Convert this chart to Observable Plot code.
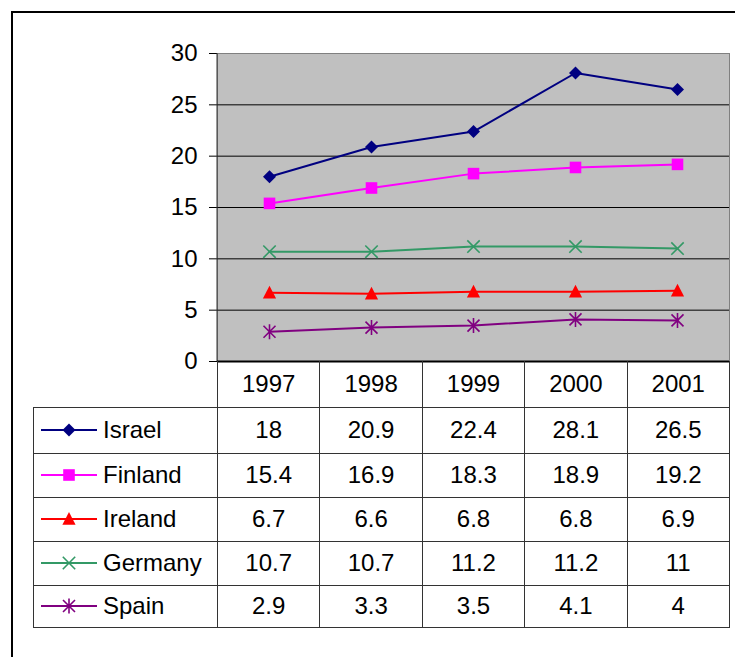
<!DOCTYPE html>
<html>
<head>
<meta charset="utf-8">
<script src="https://cdn.jsdelivr.net/npm/d3@7"></script>
<script src="https://cdn.jsdelivr.net/npm/@observablehq/plot@0.6"></script>
<style>
  html, body { margin: 0; padding: 0; background: #fff; }
  #page { position: relative; width: 735px; height: 657px; overflow: hidden; background: #fff; }
  #border { position: absolute; left: 11px; top: 11px; width: 760px; height: 700px; border: 2px solid #000; box-sizing: border-box; }
  #chart { position: absolute; left: 0; top: 0; }
  #tbl {
    position: absolute; left: 33px; top: 361px;
    border-collapse: collapse; table-layout: fixed; width: 696px;
    font: 24px "Liberation Sans", Arial, sans-serif; color: #000;
  }
  #tbl td, #tbl th { border: 1px solid #333; padding: 0; text-align: center; font-weight: normal; white-space: nowrap; }
  #tbl tr.head th { border-top: none; }
  #tbl tr.head th.corner { border-left: none; }
  #tbl tr.head { height: 46px; }
  #tbl tr.r0 { height: 46px; }
  #tbl tr.r1, #tbl tr.r2, #tbl tr.r3 { height: 44px; }
  #tbl tr.r4 { height: 42px; }
  #tbl td.key { text-align: left; }
  #tbl td.key svg { vertical-align: middle; margin-left: 7px; margin-right: 6px; position: relative; top: -2px; }
</style>
</head>
<body>
<div id="page">
  <div id="border"></div>
</div>
<script>
// Categories and series
const years = ["1997", "1998", "1999", "2000", "2001"];
const countries = ["Israel", "Finland", "Ireland", "Germany", "Spain"];
const israel = [18, 20.9, 22.4, 28.1, 26.5];
const finland = [15.4, 16.9, 18.3, 18.9, 19.2];
const ireland = [6.7, 6.6, 6.8, 6.8, 6.9];
const germany = [10.7, 10.7, 11.2, 11.2, 11];
const spain = [2.9, 3.3, 3.5, 4.1, 4];
const seriesValues = [israel, finland, ireland, germany, spain];
const colors = ["#000080", "#FF00FF", "#FF0000", "#339966", "#800080"];
const yTicks = [0, 5, 10, 15, 20, 25, 30];
const gridLines = [5, 10, 15, 20, 25];

// Marker shapes (drawn at a fixed pixel size)
const diamond = {draw(c) { const r = 6.5; c.moveTo(0, -r); c.lineTo(r, 0); c.lineTo(0, r); c.lineTo(-r, 0); c.closePath(); }};
const square = {draw(c) { const s = 5.8; c.moveTo(-s, -s); c.lineTo(s, -s); c.lineTo(s, s); c.lineTo(-s, s); c.closePath(); }};
const triangle = {draw(c) { c.moveTo(0, -7); c.lineTo(6.6, 5.8); c.lineTo(-6.6, 5.8); c.closePath(); }};
const times = {draw(c) { const r = 6.2; c.moveTo(-r, -r); c.lineTo(r, r); c.moveTo(r, -r); c.lineTo(-r, r); }};
const asterisk = {draw(c) { const r = 6; c.moveTo(-r, -r); c.lineTo(r, r); c.moveTo(r, -r); c.lineTo(-r, r); c.moveTo(0, -7.5); c.lineTo(0, 7.5); }};
const symbols = [diamond, square, triangle, times, asterisk];
const filled = [true, true, true, false, false];

// Long-form rows for the marks
const series = countries.map((name, i) => ({
  name,
  color: colors[i],
  symbol: symbols[i],
  filled: filled[i],
  rows: years.map((year, j) => ({year, value: seriesValues[i][j], country: name}))
}));

// Vertical axis line along the left edge of the plot area
const leftAxisLine = (index, scales, values, dim) => {
  const ns = "http://www.w3.org/2000/svg";
  const line = document.createElementNS(ns, "line");
  line.setAttribute("x1", dim.marginLeft);
  line.setAttribute("x2", dim.marginLeft);
  line.setAttribute("y1", dim.marginTop);
  line.setAttribute("y2", dim.height - dim.marginBottom);
  line.setAttribute("stroke", "#333");
  line.setAttribute("stroke-width", 1);
  return line;
};

const marks = [
  Plot.frame({fill: "#C0C0C0", stroke: "#808080"}),
  Plot.ruleY(gridLines, {stroke: "#000", strokeWidth: 1}),
  leftAxisLine
];
for (const s of series) {
  marks.push(Plot.line(s.rows, {x: "year", y: "value", stroke: s.color, strokeWidth: 2}));
}
for (const s of series) {
  marks.push(Plot.dot(s.rows, {
    x: "year", y: "value", symbol: s.symbol,
    fill: s.filled ? s.color : "none",
    stroke: s.filled ? "none" : s.color,
    strokeWidth: s.filled ? 0 : 1.6
  }));
}
marks.push(Plot.ruleY([0], {stroke: "#000", strokeWidth: 2}));

const chart = Plot.plot({
  width: 735,
  height: 657,
  marginLeft: 217,
  marginRight: 6,
  marginTop: 53,
  marginBottom: 296,
  style: {fontFamily: "'Liberation Sans', Arial, sans-serif", fontSize: "24px", color: "#000", background: "transparent", overflow: "visible"},
  x: {type: "point", domain: years, padding: 0.5, axis: null},
  y: {domain: [0, 30], ticks: yTicks, tickSize: 8, tickPadding: 12, label: null, tickFormat: d => String(d)},
  marks
});
chart.id = "chart";
const page = document.getElementById("page");
page.appendChild(chart);

// Data table with legend keys
const table = d3.select(page).append("table").attr("id", "tbl");
const colgroup = table.append("colgroup");
colgroup.append("col").style("width", "184px");
years.forEach(() => colgroup.append("col").style("width", "102.4px"));
const head = table.append("tr").attr("class", "head");
head.append("th").attr("class", "corner");
years.forEach(y => head.append("th").text(y));
series.forEach((s, i) => {
  const tr = table.append("tr").attr("class", "r" + i);
  const key = tr.append("td").attr("class", "key");
  const sw = key.append("svg").attr("width", 56).attr("height", 16);
  sw.append("line").attr("x1", 0).attr("x2", 56).attr("y1", 8).attr("y2", 8)
    .attr("stroke", s.color).attr("stroke-width", 2);
  const p = d3.path();
  s.symbol.draw(p, 0);
  sw.append("path").attr("d", p.toString()).attr("transform", "translate(28,8)")
    .attr("fill", s.filled ? s.color : "none")
    .attr("stroke", s.filled ? "none" : s.color)
    .attr("stroke-width", s.filled ? 0 : 1.6);
  key.append("span").text(s.name);
  s.rows.forEach(r => tr.append("td").text(String(r.value)));
});
</script>
</body>
</html>
